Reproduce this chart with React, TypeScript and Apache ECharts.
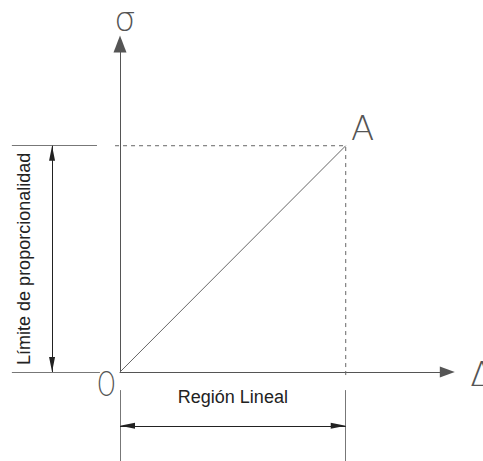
import React, { useEffect, useRef } from 'react';
import * as echarts from 'echarts';

// Axis extents (data units: point A at strain 1, stress 1)
const xExtent = [0, 1.45];
const yExtent = [0, 1.45];

// Linear stress-strain segment O -> A
const curvePoints = [
  [0, 0],
  [1, 1],
];

// Dashed guides from the σ axis to A and down to the Δ axis
const dashedGuide = [
  [-0.022, 1],
  [1, 1],
  [1, -0.015],
];

// Extension lines for the dimension marks
const extensionLines = [
  [[-0.479, 1], [-0.102, 1]],
  [[-0.479, 0], [-0.089, 0]],
  [[0, -0.08], [0, -0.42]],
  [[1, -0.08], [1, -0.42]],
];

// Dimension lines (double-headed arrows)
const verticalDimension = [[-0.301, 0], [-0.301, 1]];
const horizontalDimension = [[0, -0.2376], [1, -0.2376]];

const axisNames = ['Δ', 'σ'];
const pointNames = ['O', 'A'];
const dimensionLabels = ['Región Lineal', 'Límite de proporcionalidad'];

// Arrow head whose tip sits at the symbol centre (so it ends exactly at the line end)
const arrowHead = 'path://M0,0L0,0.1M0,15L3,30L-3,30Z';

export default function App() {
  const ref = useRef<HTMLDivElement>(null);

  useEffect(() => {
    if (!ref.current) return;
    const chart = echarts.init(ref.current, null, { renderer: 'svg' });
    const axisColor = '#555';
    const option: any = {
      animation: false,
      backgroundColor: '#fff',
      grid: { left: 120, top: 43.9, width: 327.3, height: 328.1, containLabel: false },
      xAxis: {
        type: 'value',
        min: xExtent[0],
        max: xExtent[1],
        axisLine: {
          show: true,
          onZero: false,
          symbol: ['none', 'triangle'],
          symbolSize: [11, 15],
          lineStyle: { color: axisColor, width: 1 },
        },
        axisTick: { show: false },
        axisLabel: { show: false },
        splitLine: { show: false },
      },
      yAxis: {
        type: 'value',
        min: yExtent[0],
        max: yExtent[1],
        axisLine: {
          show: true,
          onZero: false,
          symbol: ['none', 'triangle'],
          symbolSize: [13, 17],
          lineStyle: { color: axisColor, width: 1 },
        },
        axisTick: { show: false },
        axisLabel: { show: false },
        splitLine: { show: false },
      },
      series: [
        {
          type: 'line',
          data: curvePoints,
          symbol: 'none',
          lineStyle: { color: '#666', width: 1 },
          clip: false,
        },
        {
          type: 'lines',
          coordinateSystem: 'cartesian2d',
          polyline: true,
          clip: false,
          data: [{ coords: dashedGuide }],
          lineStyle: { color: '#666', width: 1, type: [4, 4], opacity: 1 },
        },
        {
          type: 'lines',
          coordinateSystem: 'cartesian2d',
          clip: false,
          data: extensionLines.map((c) => ({ coords: c })),
          lineStyle: { color: '#777', width: 1, opacity: 1 },
        },
        {
          type: 'lines',
          coordinateSystem: 'cartesian2d',
          clip: false,
          symbol: [arrowHead, arrowHead],
          symbolSize: [[6, 30], [6, 30]],
          data: [{ coords: verticalDimension }, { coords: horizontalDimension }],
          lineStyle: { color: '#222', width: 1, opacity: 1 },
        },
      ],
    };
    chart.setOption(option);

    const px = (p: number[]) => chart.convertToPixel({ gridIndex: 0 }, p) as number[];
    const xEnd = px([xExtent[1], 0]);
    const yEnd = px([0, yExtent[1]]);
    const o = px(curvePoints[0]);
    const a = px(curvePoints[1]);
    const hd0 = px(horizontalDimension[0]);
    const hd1 = px(horizontalDimension[1]);
    const vd0 = px(verticalDimension[0]);
    const vd1 = px(verticalDimension[1]);

    const glyphStyle = {
      fontFamily: 'DejaVu Sans',
      fontWeight: 200,
      fontSize: 34,
      fill: '#555',
      align: 'center',
      verticalAlign: 'middle',
    };
    const labelStyle = {
      fontFamily: 'Liberation Sans, Arial, sans-serif',
      fontSize: 18,
      fill: '#222',
      align: 'center',
      verticalAlign: 'middle',
    };

    chart.setOption({
      graphic: [
        { type: 'text', x: yEnd[0] + 5, y: yEnd[1] - 25, style: { ...glyphStyle, text: axisNames[1] } },
        { type: 'text', x: xEnd[0] + 23, y: xEnd[1] + 2, style: { ...glyphStyle, align: 'left', text: axisNames[0] } },
        { type: 'text', x: a[0] + 17, y: a[1] - 18, style: { ...glyphStyle, text: pointNames[1] } },
        { type: 'text', x: o[0] - 13.5, y: o[1] + 12.5, scaleX: 0.72, style: { ...glyphStyle, text: pointNames[0] } },
        { type: 'text', x: (hd0[0] + hd1[0]) / 2, y: hd0[1] - 29, style: { ...labelStyle, text: dimensionLabels[0] } },
        {
          type: 'text',
          x: vd0[0] - 28,
          y: (vd0[1] + vd1[1]) / 2,
          rotation: Math.PI / 2,
          style: { ...labelStyle, text: dimensionLabels[1] },
        },
      ],
    });

    return () => chart.dispose();
  }, []);

  return (
    <div
      ref={ref}
      style={{ position: 'absolute', left: 0, top: 0, width: 483, height: 461 }}
    />
  );
}
